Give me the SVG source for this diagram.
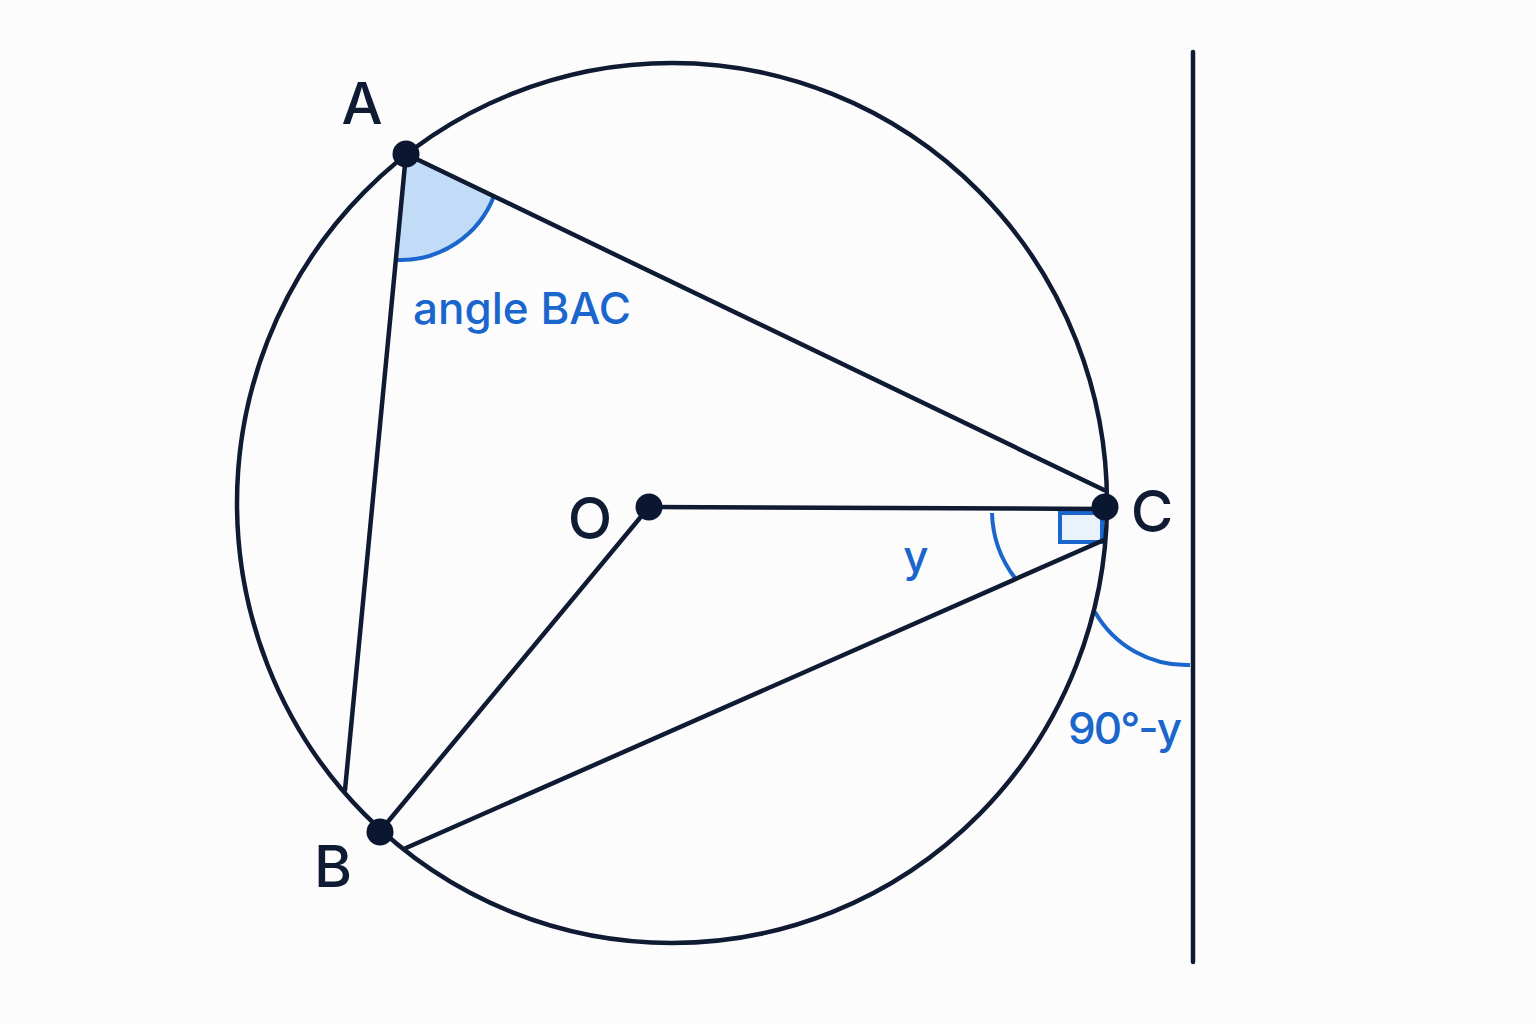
<svg xmlns="http://www.w3.org/2000/svg" width="1536" height="1024" viewBox="0 0 1536 1024">
<style>
.ln{stroke:#0f1a33;stroke-width:4.5;fill:none;stroke-linecap:round}
.dot{fill:#0b1630}
.blue{stroke:#1a66cc;stroke-width:4;fill:none}
.lbl{font-family:Inter,"Liberation Sans",sans-serif;font-size:58px;fill:#0f1a33;font-weight:500}
.bl{font-family:Inter,"Liberation Sans",sans-serif;font-size:44px;fill:#1a66cc;font-weight:500}
</style>
<rect width="1536" height="1024" fill="#fcfcfd"/>
<g id="angles">
<path d="M406 154 L494 196 A100 100 0 0 1 398 260 Z" fill="#c2dcf7"/>
<path class="blue" d="M494 196 A100 100 0 0 1 398 260"/>
<rect x="1060" y="513" width="42" height="29" fill="#eaf2fc" stroke="#1a66cc" stroke-width="4"/>
<path class="blue" d="M992 513 A112 112 0 0 0 1015 578"/>
<path class="blue" d="M1095 612 A105 105 0 0 0 1190 665"/>
</g>
<g id="connectors">
<ellipse class="ln" cx="672" cy="503" rx="435" ry="440"/>
<line class="ln" x1="1193" y1="52" x2="1193" y2="962" stroke-width="5"/>
<line class="ln" x1="406" y1="154" x2="1104" y2="490"/>
<line class="ln" x1="406" y1="154" x2="345" y2="790"/>
<line class="ln" x1="649" y1="507" x2="1105" y2="509"/>
<line class="ln" x1="649" y1="507" x2="386" y2="824"/>
<line class="ln" x1="1104" y1="540" x2="406" y2="848"/>
</g>
<g id="A"><circle class="dot" cx="406" cy="154" r="13.5"/><text class="lbl" x="362" y="124" text-anchor="middle">A</text></g>
<g id="B"><circle class="dot" cx="380" cy="832" r="13.5"/><text class="lbl" x="333" y="887" text-anchor="middle">B</text></g>
<g id="C"><circle class="dot" cx="1105" cy="507" r="13.5"/><text class="lbl" x="1152" y="532" text-anchor="middle">C</text></g>
<g id="O"><circle class="dot" cx="649" cy="507" r="13.5"/><text class="lbl" x="590" y="539" text-anchor="middle">O</text></g>
<g id="labels">
<text class="bl" x="413" y="324">angle BAC</text>
<text class="bl" x="916" y="572" text-anchor="middle">y</text>
<text class="bl" x="1068" y="744" textLength="114" lengthAdjust="spacing">90°-y</text>
</g>
</svg>
